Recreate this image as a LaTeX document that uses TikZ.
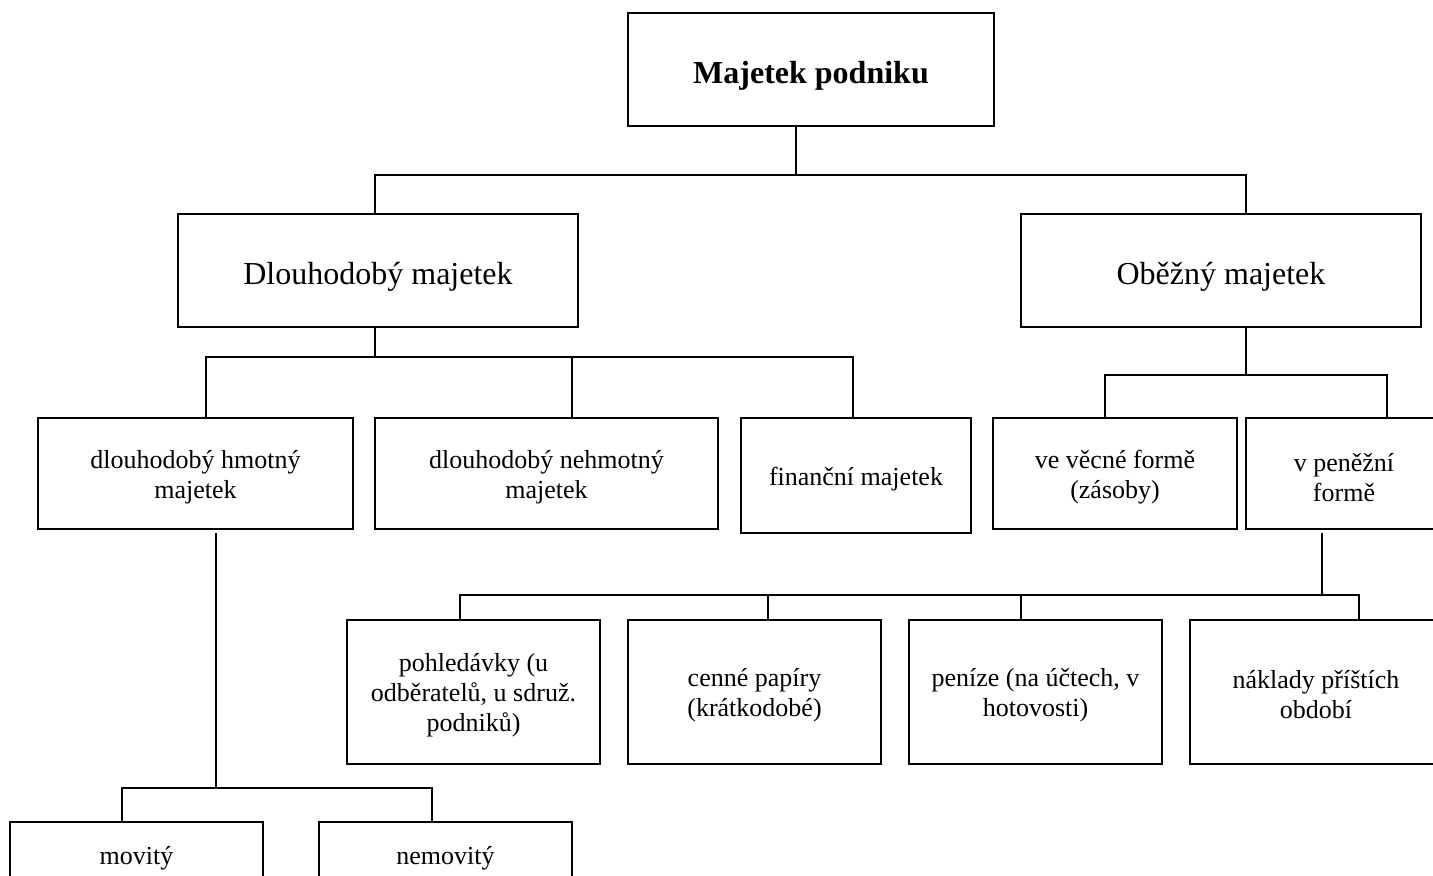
\documentclass[tikz,border=0pt]{standalone}
\usepackage{fontspec}
\setmainfont{Liberation Serif}
\usetikzlibrary{calc}
\tikzset{
  box/.style={draw, line width=1pt, inner sep=0pt, outer sep=0pt},
  txt/.style={inner sep=0pt, align=center, font=\fontsize{13}{15}\selectfont},
  bigtxt/.style={txt, font=\fontsize{16}{18}\selectfont},
  link/.style={line width=1pt}
}
\begin{document}
\begin{tikzpicture}[x=0.5pt, y=-0.5pt]
\path[use as bounding box, clip] (0,0) rectangle (1433,876);
% boxes
\node[box, minimum width=183pt, minimum height=56.5pt] (top) at (811,69.5) {};
\node[box, minimum width=200pt, minimum height=56.5pt] (dl) at (378,270.5) {};
\node[box, minimum width=200pt, minimum height=56.5pt] (ob) at (1221,270.5) {};
\node[box, minimum width=157.5pt, minimum height=55.5pt] (hm) at (195.5,473.5) {};
\node[box, minimum width=171.5pt, minimum height=55.5pt] (nh) at (546.5,473.5) {};
\node[box, minimum width=115pt, minimum height=57.5pt] (fi) at (856,475.5) {};
\node[box, minimum width=122pt, minimum height=55.5pt] (vf) at (1115,473.5) {};
\node[box, minimum width=98pt, minimum height=55.5pt] (pf) at (1344,473.5) {};
\node[box, minimum width=126.5pt, minimum height=72pt] (pd) at (473.5,692) {};
\node[box, minimum width=126.5pt, minimum height=72pt] (cp) at (754.5,692) {};
\node[box, minimum width=126.5pt, minimum height=72pt] (pn) at (1035.5,692) {};
\node[box, minimum width=126pt, minimum height=72pt] (nk) at (1316,692) {};
\node[box, minimum width=126.5pt, minimum height=33pt] (mv) at (136.5,855) {};
\node[box, minimum width=126.5pt, minimum height=33pt] (nm) at (445.5,855) {};
% texts
\node[bigtxt, font=\fontsize{16}{18}\selectfont\bfseries] (topt) at ($(top)+(0,6)$) {Majetek podniku};
\node[bigtxt] (dlt) at ($(dl)+(0,6)$) {Dlouhodobý majetek};
\node[bigtxt] (obt) at ($(ob)+(0,6)$) {Oběžný majetek};
\node[txt] (hmt) at ($(hm)+(0,4)$) {dlouhodobý hmotný\\majetek};
\node[txt] (nht) at ($(nh)+(0,4)$) {dlouhodobý nehmotný\\majetek};
\node[txt] (fit) at ($(fi)+(0,4)$) {finanční majetek};
\node[txt] (vft) at ($(vf)+(0,4)$) {ve věcné formě\\(zásoby)};
\node[txt] (pft) at ($(pf)+(0,4)$) {v peněžní\\formě};
\node[txt] (pdt) at ($(pd)+(0,3)$) {pohledávky (u\\odběratelů, u sdruž.\\podniků)};
\node[txt] (cpt) at ($(cp)+(0,3)$) {cenné papíry\\(krátkodobé)};
\node[txt] (pnt) at ($(pn)+(0,3)$) {peníze (na účtech, v\\hotovosti)};
\node[txt] (nkt) at ($(nk)+(0,3)$) {náklady příštích\\období};
\node[txt] (mvt) at ($(mv)+(0,3)$) {movitý};
\node[txt] (nmt) at ($(nm)+(0,3)$) {nemovitý};
% junctions
\coordinate (j0) at (796,175);
\coordinate (j1) at (375,357);
\coordinate (j2) at (1246,375);
\coordinate (j3) at (1322,595);
\coordinate (j4) at (216,788);
% connectors
\draw[link] (top.south -| j0) -- (j0);
\draw[link] (j0) -| ($(dl.north)+(-3,0)$);
\draw[link] (j0) -| ($(ob.north)+(25,0)$);
\draw[link] (dl.south -| j1) -- (j1);
\draw[link] (j1) -| ($(hm.north)+(10.5,0)$);
\draw[link] (j1) -| ($(nh.north)+(25.5,0)$);
\draw[link] (j1) -| ($(fi.north)+(-3,0)$);
\draw[link] (ob.south -| j2) -- (j2);
\draw[link] (j2) -| ($(vf.north)+(-10,0)$);
\draw[link] (j2) -| ($(pf.north)+(43,0)$);
\draw[link] ($(pf.south -| j3)+(0,4)$) -- (j3);
\draw[link] (j3) -| ($(pd.north)+(-13.5,0)$);
\draw[link] (j3) -| ($(cp.north)+(13.5,0)$);
\draw[link] (j3) -| ($(pn.north)+(-14.5,0)$);
\draw[link] (j3) -| ($(nk.north)+(43,0)$);
\draw[link] ($(hm.south -| j4)+(0,4)$) -- (j4);
\draw[link] (j4) -| ($(mv.north)+(-14.5,0)$);
\draw[link] (j4) -| ($(nm.north)+(-13.5,0)$);
\end{tikzpicture}
\end{document}
